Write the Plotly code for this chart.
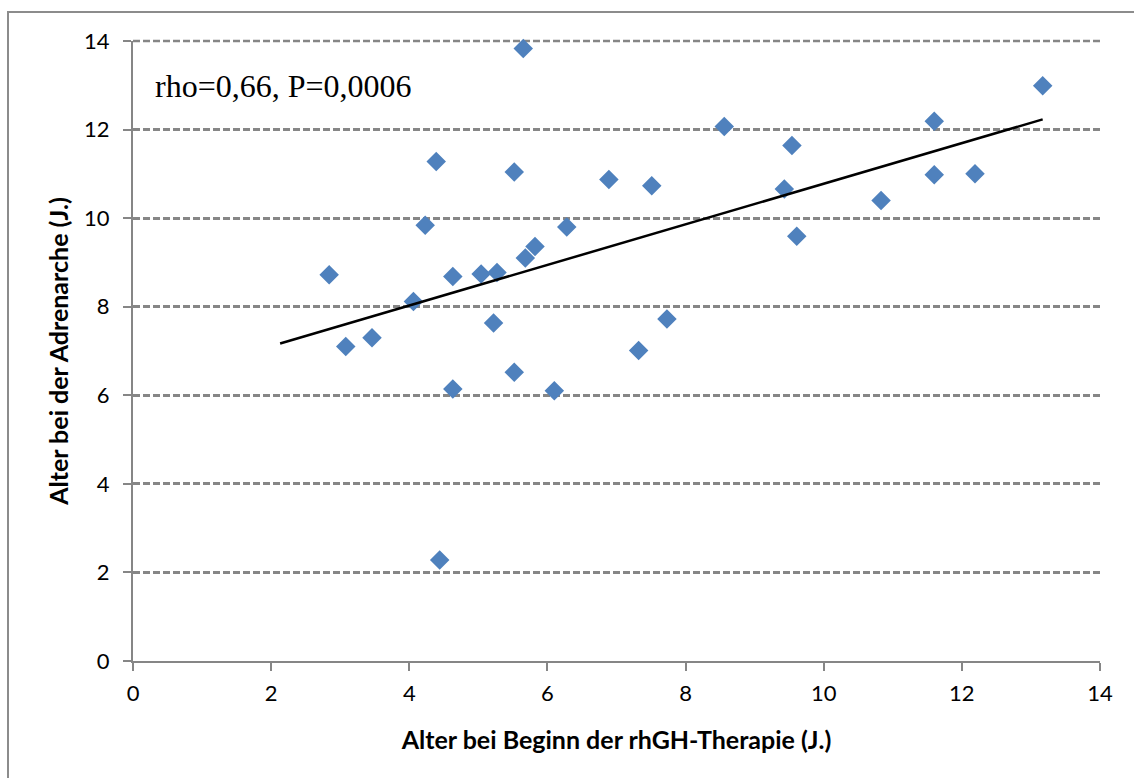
import plotly.graph_objects as go

# Data
x_therapy = [2.84, 3.08, 3.46, 4.06, 4.23, 4.39, 4.44, 4.63, 4.63, 5.04,
             5.22, 5.27, 5.52, 5.52, 5.65, 5.68, 5.82, 6.10, 6.28, 6.89,
             7.32, 7.51, 7.73, 8.56, 9.43, 9.54, 9.61, 10.83, 11.60, 11.60,
             12.19, 13.17]
y_adrenarche = [8.72, 7.10, 7.30, 8.12, 9.84, 11.28, 2.28, 8.68, 6.14, 8.74,
                7.63, 8.77, 11.04, 6.52, 13.83, 9.10, 9.36, 6.10, 9.80, 10.87,
                7.01, 10.73, 7.72, 12.07, 10.66, 11.64, 9.59, 10.40, 12.19, 10.98,
                11.00, 12.99]
trend_x = [2.13, 13.17]
trend_y = [7.17, 12.23]
x_ticks = [0, 2, 4, 6, 8, 10, 12, 14]
y_ticks = [0, 2, 4, 6, 8, 10, 12, 14]
annotation_text = "rho=0,66, P=0,0006"
x_title = "Alter bei Beginn der rhGH-Therapie (J.)"
y_title = "Alter bei der Adrenarche (J.)"

W, H = 1134, 778
L, R, T, B = 133, 34, 41, 117
pw, ph = W - L - R, H - T - B

def px_to_paper(px, py):
    return (px - L) / pw, (H - B - py) / ph

fig = go.Figure()
fig.add_trace(go.Scatter(
    x=x_therapy, y=y_adrenarche, mode="markers",
    marker=dict(symbol="diamond", size=15, color="#4F81BD",
                line=dict(width=0)),
    showlegend=False, cliponaxis=False))
fig.add_trace(go.Scatter(
    x=trend_x, y=trend_y, mode="lines",
    line=dict(color="black", width=2.5), showlegend=False))

grid = "#868686"
fig.update_xaxes(range=[0, 14], tickvals=x_ticks, showgrid=False,
                 zeroline=False, showline=True, linecolor=grid, linewidth=2,
                 ticks="outside", ticklen=8, tickcolor=grid, tickwidth=2,
                 ticklabelstandoff=4,
                 tickfont=dict(family="Lato", size=22, color="black"),
                 title=dict(text="<b>" + x_title + "</b>", standoff=26,
                            font=dict(family="Lato", size=25, color="black")))
fig.update_yaxes(range=[0, 14], tickvals=y_ticks, showgrid=True,
                 gridcolor=grid, gridwidth=2.5, griddash="7px,3px",
                 zeroline=False, showline=True, linecolor=grid, linewidth=2,
                 ticks="outside", ticklen=8, tickcolor=grid, tickwidth=2,
                 ticklabelstandoff=9,
                 tickfont=dict(family="Lato", size=22, color="black"),
                 title=dict(text="<b>" + y_title + "</b>", standoff=8,
                            font=dict(family="Lato", size=25, color="black")))

# top gridline (plotly skips the gridline at the upper range edge)
fig.add_shape(type="line", xref="paper", yref="paper", x0=0, x1=1,
              y0=1, y1=1,
              line=dict(color=grid, width=2.5, dash="7px,3px"), layer="below")

x0, y0 = px_to_paper(8, 12)
x1, y1 = px_to_paper(1145, 790)
fig.add_shape(type="rect", xref="paper", yref="paper", x0=x0, y0=y1, x1=x1, y1=y0,
              line=dict(color="#8c8c8c", width=2), layer="below")

ax, ay = px_to_paper(153, 86)
fig.add_annotation(text=annotation_text, xref="paper", yref="paper",
                   x=ax, y=ay, xanchor="left", yanchor="middle", showarrow=False,
                   font=dict(family="Liberation Serif", size=32, color="black"))

fig.update_layout(width=W, height=H, margin=dict(l=L, r=R, t=T, b=B),
                  plot_bgcolor="white", paper_bgcolor="white")
fig.write_html("out.html")
